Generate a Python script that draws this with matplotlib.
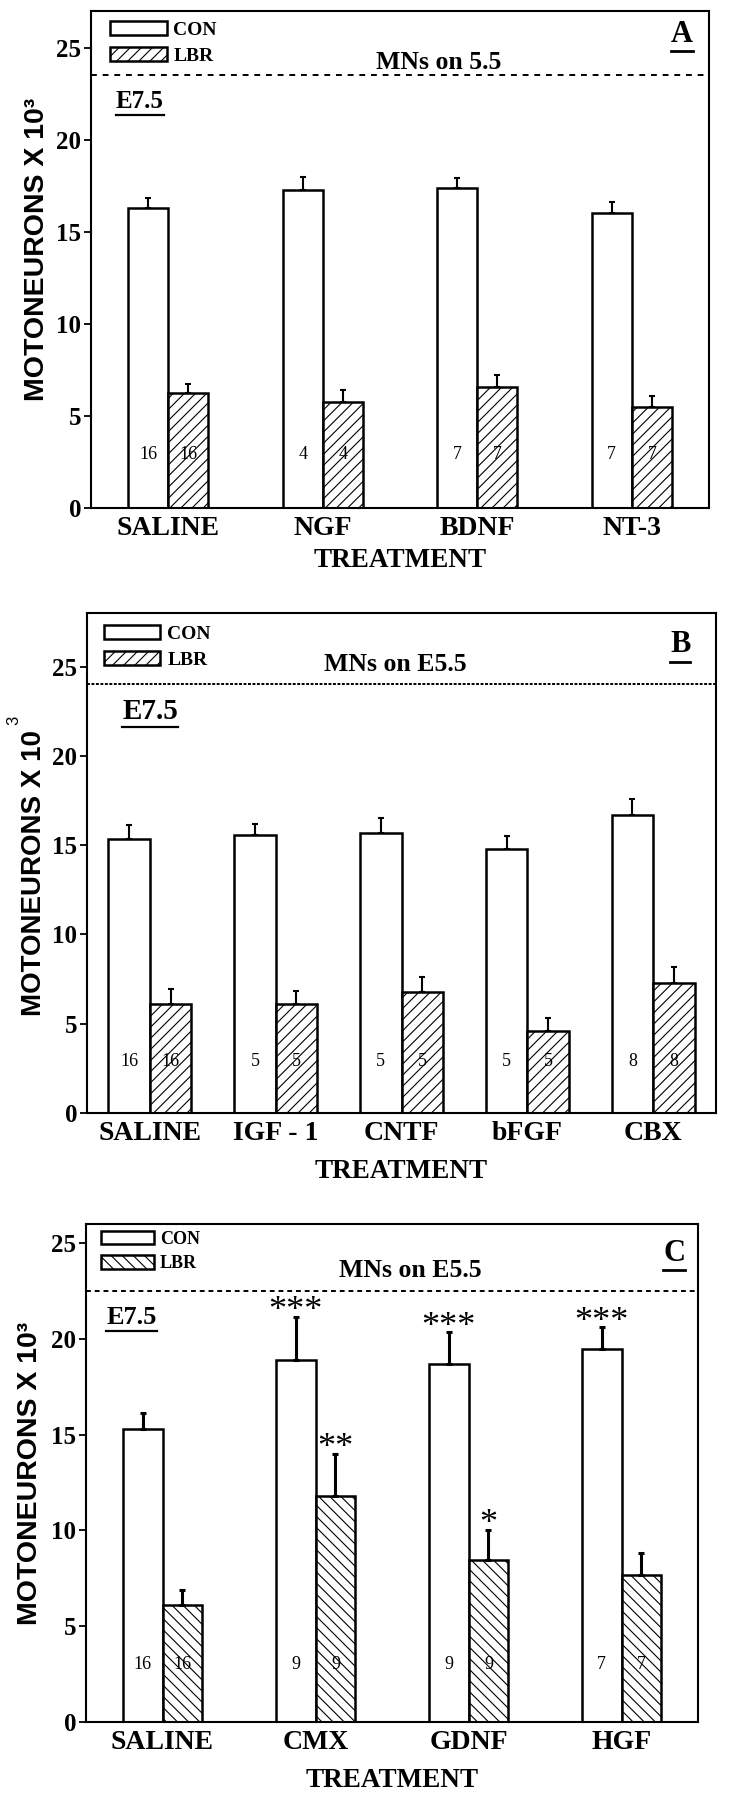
#!/usr/bin/env python3
"""
Motoneuron counts at E7.5 after limb bud removal, three treatment panels.
Saves out.png (730x1800).
"""

import matplotlib
matplotlib.use('Agg')
import matplotlib.pyplot as plt
import numpy as np

SERIF = ['Liberation Serif', 'DejaVu Serif']
SANS = ['Liberation Sans', 'DejaVu Sans']

# ---- panel A ----
cats_a = ["SALINE", "NGF", "BDNF", "NT-3"]
con_a = [16.3, 17.3, 17.4, 16.0]
con_err_a = [0.55, 0.7, 0.55, 0.6]
lbr_a = [6.25, 5.75, 6.6, 5.5]
lbr_err_a = [0.5, 0.65, 0.6, 0.6]
n_a = [16, 4, 7, 7]

# ---- panel B ----
cats_b = ["SALINE", "IGF - 1", "CNTF", "bFGF", "CBX"]
con_b = [15.35, 15.55, 15.7, 14.8, 16.7]
con_err_b = [0.8, 0.65, 0.8, 0.7, 0.9]
lbr_b = [6.1, 6.1, 6.8, 4.6, 7.3]
lbr_err_b = [0.85, 0.75, 0.8, 0.7, 0.9]
n_b = [16, 5, 5, 5, 8]

# ---- panel C ----
cats_c = ["SALINE", "CMX", "GDNF", "HGF"]
con_c = [15.3, 18.9, 18.7, 19.5]
con_err_c = [0.85, 2.25, 1.65, 1.1]
lbr_c = [6.1, 11.8, 8.45, 7.7]
lbr_err_c = [0.8, 2.2, 1.6, 1.1]
n_c = [16, 9, 9, 7]
con_stars_c = ["", "***", "***", "***"]
lbr_stars_c = ["", "**", "*", ""]

yticks = [0, 5, 10, 15, 20, 25]
e55_a, e55_b, e55_c = 23.5, 24.0, 22.5

W, H = 730, 1800


def axes_px(left, right, top, bottom):
    return [left / W, (H - bottom) / H, (right - left) / W, (bottom - top) / H]


def underline(fig, ax, txt, lw=1.6, gap=2):
    fig.canvas.draw()
    bb = txt.get_window_extent(fig.canvas.get_renderer())
    inv = ax.transAxes.inverted()
    (x0, y0), (x1, _) = inv.transform([(bb.x0, bb.y0 - gap), (bb.x1, bb.y0 - gap)])
    ax.plot([x0, x1], [y0, y0], color='black', lw=lw, transform=ax.transAxes, clip_on=False)


def draw_panel(fig, ax, cats, con, con_err, lbr, lbr_err, n, width, ymax, hatch,
               e55, e55_text, e55_pos, letter, letter_pos, e75_pos, e75_size,
               leg_anchor, leg_size, err_lw, dash, xlab_y, ylab_x, ylab_y,
               n_y=2.9, ylabel="MOTONEURONS X 10\u00b3", ylab_size=20.5):
    x = np.arange(len(cats))
    b1 = ax.bar(x - width / 2, con, width, color='white', edgecolor='black',
                linewidth=1.8, label='CON', zorder=2)
    b2 = ax.bar(x + width / 2, lbr, width, color='white', edgecolor='black',
                linewidth=1.8, hatch=hatch, label='LBR', zorder=2)
    zeros = np.zeros(len(cats))
    ax.errorbar(x - width / 2, con, yerr=[zeros, con_err], fmt='none', ecolor='black',
                elinewidth=err_lw, capsize=2, capthick=err_lw, zorder=3)
    ax.errorbar(x + width / 2, lbr, yerr=[zeros, lbr_err], fmt='none', ecolor='black',
                elinewidth=err_lw, capsize=2, capthick=err_lw, zorder=3)

    for xi, ni in zip(x, n):
        ax.text(xi - width / 2, n_y, str(ni), ha='center', va='center', fontsize=13,
                family=SERIF, zorder=4)
        ax.text(xi + width / 2, n_y, str(ni), ha='center', va='center', fontsize=13,
                family=SERIF, zorder=4)

    ax.axhline(e55, color='black', lw=1.4, ls=(0, dash), zorder=1)
    ax.text(e55_pos[0], e55_pos[1], e55_text, transform=ax.get_yaxis_transform(),
            ha='center', va='bottom', fontsize=18.5, fontweight='bold', family=SERIF)

    t_e75 = ax.text(e75_pos[0], e75_pos[1], "E7.5", transform=ax.get_yaxis_transform(),
                    ha='left', va='center', fontsize=e75_size, fontweight='bold', family=SERIF)
    t_let = ax.text(letter_pos[0], letter_pos[1], letter, transform=ax.transAxes,
                    ha='center', va='center', fontsize=22, fontweight='bold', family=SERIF)

    ax.set_xlim(-0.5, len(cats) - 0.5)
    ax.set_ylim(0, ymax)
    ax.set_xticks(x, cats)
    ax.set_yticks(yticks)
    ax.tick_params(axis='x', length=0, pad=6, labelsize=20)
    ax.tick_params(axis='y', length=5, width=1.3, direction='out', labelsize=18, pad=2)
    for lab in ax.get_xticklabels() + ax.get_yticklabels():
        lab.set_fontweight('bold')
        lab.set_family(SERIF)
    for s in ax.spines.values():
        s.set_linewidth(1.5)

    ax.set_xlabel("TREATMENT", fontsize=19.5, fontweight='bold', family=SERIF)
    ax.xaxis.set_label_coords(0.5, xlab_y)
    ax.xaxis.label.set_va('center')
    ax.set_ylabel(ylabel, fontsize=ylab_size, fontweight='bold', family=SANS)
    ax.yaxis.set_label_coords(ylab_x, ylab_y)
    ax.yaxis.label.set_va('center')

    ax.legend(handles=[b1, b2], loc='upper left', bbox_to_anchor=leg_anchor,
              frameon=False, borderpad=0, borderaxespad=0, fontsize=leg_size,
              handlelength=2.9, handleheight=0.75, handletextpad=0.35,
              labelspacing=0.4, prop={'family': SERIF, 'weight': 'bold', 'size': leg_size})

    underline(fig, ax, t_e75)
    underline(fig, ax, t_let, lw=2)
    return x


def main():
    plt.rcParams['hatch.linewidth'] = 0.8
    fig = plt.figure(figsize=(W / 100, H / 100), dpi=100, facecolor='white')

    ax_a = fig.add_axes(axes_px(91, 709, 11, 508))
    draw_panel(fig, ax_a, cats_a, con_a, con_err_a, lbr_a, lbr_err_a, n_a,
               width=0.26, ymax=27, hatch='///', e55=e55_a, e55_text="MNs on 5.5",
               e55_pos=(0.563, 23.6), letter="A", letter_pos=(0.956, 0.952),
               e75_pos=(0.04, 22.1), e75_size=18, leg_anchor=(0.031, 0.98), leg_size=14,
               err_lw=1.5, dash=(3, 3), xlab_y=-0.105, ylab_x=-0.087, ylab_y=0.52)

    ax_b = fig.add_axes(axes_px(87, 716, 613, 1113))
    draw_panel(fig, ax_b, cats_b, con_b, con_err_b, lbr_b, lbr_err_b, n_b,
               width=0.33, ymax=28, hatch='///', e55=e55_b, e55_text="MNs on E5.5",
               e55_pos=(0.49, 24.45), letter="B", letter_pos=(0.943, 0.936),
               e75_pos=(0.056, 22.5), e75_size=21, leg_anchor=(0.027, 0.976), leg_size=14,
               err_lw=1.5, dash=(1.5, 0.8), xlab_y=-0.118, ylab_x=-0.084, ylab_y=0.48,
               ylabel="MOTONEURONS X 10", ylab_size=20)
    ax_b.text(-0.116, 0.786, "3", transform=ax_b.transAxes, rotation=90, ha='center',
              va='center', fontsize=12, family=SANS)

    ax_c = fig.add_axes(axes_px(86, 698, 1224, 1722))
    x_c = draw_panel(fig, ax_c, cats_c, con_c, con_err_c, lbr_c, lbr_err_c, n_c,
                     width=0.26, ymax=26, hatch='\\\\\\', e55=e55_c, e55_text="MNs on E5.5",
                     e55_pos=(0.53, 22.95), letter="C", letter_pos=(0.961, 0.94),
                     e75_pos=(0.033, 21.1), e75_size=19, leg_anchor=(0.025, 0.986), leg_size=13,
                     err_lw=2.2, dash=(2.5, 2), xlab_y=-0.118, ylab_x=-0.092, ylab_y=0.5,
                     n_y=3.0)
    w = 0.26
    for xi, v, e, s in zip(x_c, con_c, con_err_c, con_stars_c):
        if s:
            ax_c.text(xi - w / 2, v + e - 0.6, s, ha='center', va='bottom', fontsize=26,
                      family=SERIF, zorder=4)
    for xi, v, e, s in zip(x_c, lbr_c, lbr_err_c, lbr_stars_c):
        if s:
            ax_c.text(xi + w / 2, v + e - 0.6, s, ha='center', va='bottom', fontsize=26,
                      family=SERIF, zorder=4)

    fig.savefig("out.png", dpi=100, facecolor='white')
    plt.close(fig)


if __name__ == "__main__":
    main()
